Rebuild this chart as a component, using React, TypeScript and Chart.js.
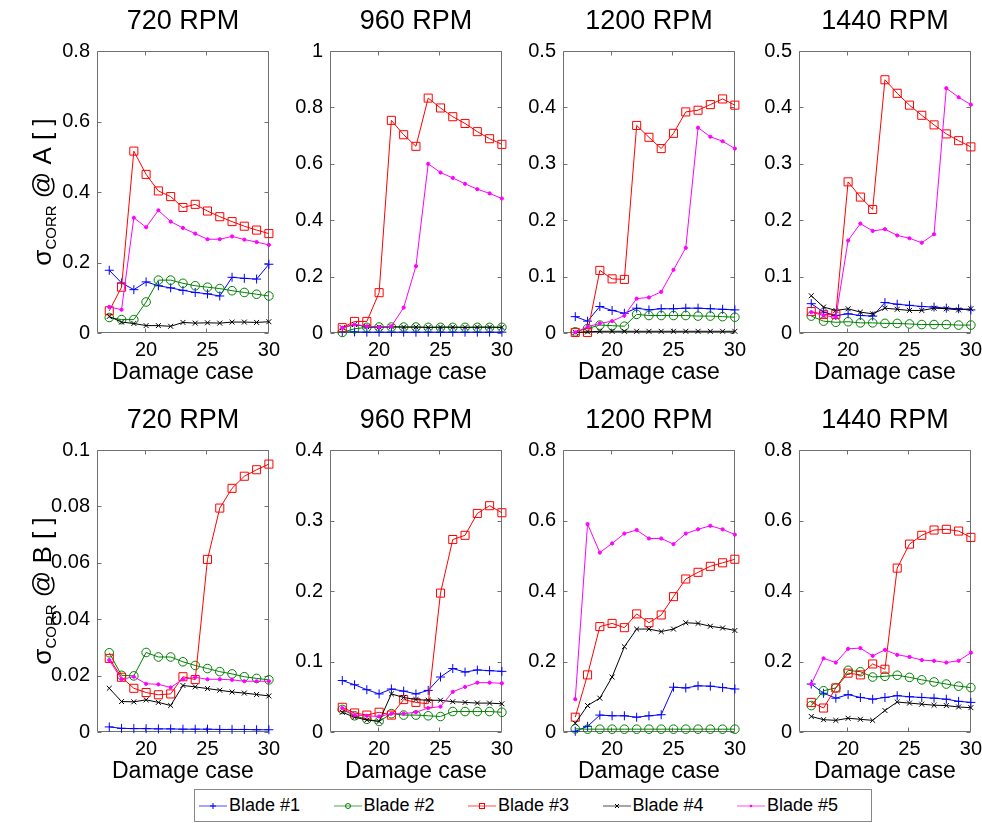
import React, { useEffect, useRef } from 'react';
import { Chart, registerables } from 'chart.js';

Chart.register(...registerables);

const FONT = "'Liberation Sans', Arial, Helvetica, sans-serif";

// ---------- data ----------
const damageCases = [17, 18, 19, 20, 21, 22, 23, 24, 25, 26, 27, 28, 29, 30];
const xTicks = [20, 25, 30];
const xMin = 16;
const xMax = 30;

const bladeNames = ['Blade #1', 'Blade #2', 'Blade #3', 'Blade #4', 'Blade #5'];
const rpmTitles = ['720 RPM', '960 RPM', '1200 RPM', '1440 RPM'];

// sigma_CORR @ A
const a720Blade1 = [0.178, 0.142, 0.123, 0.145, 0.134, 0.128, 0.121, 0.115, 0.111, 0.105, 0.158, 0.155, 0.153, 0.195];
const a720Blade2 = [0.044, 0.038, 0.038, 0.088, 0.150, 0.150, 0.141, 0.134, 0.130, 0.126, 0.120, 0.115, 0.110, 0.105];
const a720Blade3 = [0.063, 0.130, 0.516, 0.450, 0.403, 0.387, 0.356, 0.365, 0.346, 0.330, 0.316, 0.303, 0.292, 0.282];
const a720Blade4 = [0.047, 0.031, 0.027, 0.021, 0.021, 0.019, 0.030, 0.028, 0.029, 0.028, 0.031, 0.031, 0.030, 0.032];
const a720Blade5 = [0.074, 0.066, 0.327, 0.300, 0.348, 0.316, 0.298, 0.282, 0.266, 0.266, 0.274, 0.265, 0.258, 0.250];

const a960Blade1 = [0.004, 0.004, 0.003, 0.003, 0.003, 0.003, 0.003, 0.003, 0.003, 0.003, 0.003, 0.003, 0.003, 0.003];
const a960Blade2 = [0.002, 0.015, 0.020, 0.021, 0.021, 0.021, 0.021, 0.020, 0.020, 0.020, 0.020, 0.020, 0.020, 0.020];
const a960Blade3 = [0.019, 0.041, 0.041, 0.143, 0.754, 0.703, 0.662, 0.833, 0.798, 0.767, 0.743, 0.714, 0.689, 0.669];
const a960Blade4 = [0.019, 0.030, 0.022, 0.021, 0.022, 0.021, 0.021, 0.020, 0.021, 0.021, 0.020, 0.021, 0.021, 0.020];
const a960Blade5 = [0.019, 0.030, 0.024, 0.021, 0.024, 0.090, 0.237, 0.600, 0.569, 0.550, 0.529, 0.510, 0.495, 0.477];

const a1200Blade1 = [0.029, 0.021, 0.047, 0.040, 0.035, 0.044, 0.041, 0.043, 0.043, 0.044, 0.044, 0.043, 0.042, 0.041];
const a1200Blade2 = [0.002, 0.008, 0.014, 0.013, 0.012, 0.033, 0.031, 0.031, 0.031, 0.031, 0.030, 0.030, 0.029, 0.028];
const a1200Blade3 = [0.001, 0.001, 0.111, 0.096, 0.095, 0.368, 0.347, 0.327, 0.354, 0.392, 0.395, 0.405, 0.415, 0.404];
const a1200Blade4 = [0.001, 0.002, 0.003, 0.003, 0.003, 0.003, 0.003, 0.003, 0.003, 0.003, 0.003, 0.003, 0.003, 0.003];
const a1200Blade5 = [0.001, 0.011, 0.017, 0.021, 0.031, 0.061, 0.063, 0.073, 0.112, 0.151, 0.364, 0.348, 0.340, 0.327];

const a1440Blade1 = [0.052, 0.037, 0.031, 0.034, 0.031, 0.030, 0.054, 0.051, 0.049, 0.047, 0.046, 0.044, 0.043, 0.041];
const a1440Blade2 = [0.030, 0.021, 0.019, 0.020, 0.018, 0.018, 0.017, 0.017, 0.016, 0.015, 0.015, 0.015, 0.014, 0.014];
const a1440Blade3 = [0.038, 0.033, 0.033, 0.268, 0.241, 0.219, 0.449, 0.425, 0.404, 0.386, 0.369, 0.353, 0.341, 0.330];
const a1440Blade4 = [0.066, 0.046, 0.040, 0.043, 0.037, 0.034, 0.044, 0.042, 0.040, 0.040, 0.044, 0.043, 0.041, 0.043];
const a1440Blade5 = [0.037, 0.031, 0.028, 0.164, 0.194, 0.181, 0.184, 0.173, 0.168, 0.160, 0.175, 0.434, 0.418, 0.405];

// sigma_CORR @ B
const b720Blade1 = [0.0018, 0.0013, 0.0012, 0.0012, 0.0011, 0.0011, 0.0010, 0.0010, 0.0010, 0.0009, 0.0009, 0.0009, 0.0008, 0.0008];
const b720Blade2 = [0.0281, 0.0201, 0.0199, 0.0282, 0.0266, 0.0266, 0.0249, 0.0236, 0.0225, 0.0214, 0.0206, 0.0196, 0.0190, 0.0185];
const b720Blade3 = [0.0261, 0.0194, 0.0155, 0.0140, 0.0132, 0.0135, 0.0196, 0.0186, 0.0612, 0.0794, 0.0864, 0.0907, 0.0930, 0.0950];
const b720Blade4 = [0.0155, 0.0108, 0.0107, 0.0114, 0.0105, 0.0094, 0.0165, 0.0160, 0.0154, 0.0148, 0.0142, 0.0138, 0.0133, 0.0128];
const b720Blade5 = [0.0255, 0.0187, 0.0196, 0.0171, 0.0169, 0.0158, 0.0187, 0.0194, 0.0187, 0.0187, 0.0185, 0.0180, 0.0180, 0.0180];

const b960Blade1 = [0.073, 0.067, 0.060, 0.054, 0.061, 0.058, 0.054, 0.059, 0.078, 0.090, 0.085, 0.088, 0.087, 0.086];
const b960Blade2 = [0.032, 0.023, 0.018, 0.015, 0.026, 0.024, 0.024, 0.023, 0.022, 0.029, 0.029, 0.029, 0.029, 0.028];
const b960Blade3 = [0.035, 0.027, 0.024, 0.028, 0.024, 0.046, 0.042, 0.040, 0.197, 0.273, 0.279, 0.310, 0.321, 0.311];
const b960Blade4 = [0.028, 0.021, 0.017, 0.015, 0.054, 0.049, 0.046, 0.045, 0.045, 0.043, 0.042, 0.041, 0.041, 0.040];
const b960Blade5 = [0.034, 0.024, 0.023, 0.022, 0.026, 0.026, 0.028, 0.034, 0.036, 0.057, 0.064, 0.070, 0.070, 0.069];

const b1200Blade1 = [0.002, 0.016, 0.048, 0.046, 0.046, 0.042, 0.046, 0.049, 0.127, 0.125, 0.131, 0.130, 0.126, 0.122];
const b1200Blade2 = [0.009, 0.008, 0.008, 0.008, 0.008, 0.008, 0.008, 0.008, 0.008, 0.008, 0.008, 0.008, 0.008, 0.008];
const b1200Blade3 = [0.042, 0.162, 0.299, 0.308, 0.296, 0.335, 0.310, 0.332, 0.384, 0.434, 0.453, 0.470, 0.480, 0.490];
const b1200Blade4 = [0.025, 0.075, 0.096, 0.156, 0.242, 0.292, 0.292, 0.285, 0.292, 0.310, 0.308, 0.300, 0.295, 0.288];
const b1200Blade5 = [0.093, 0.590, 0.509, 0.535, 0.563, 0.573, 0.549, 0.549, 0.533, 0.563, 0.575, 0.585, 0.575, 0.560];

const b1440Blade1 = [0.136, 0.110, 0.096, 0.106, 0.098, 0.093, 0.098, 0.103, 0.100, 0.098, 0.096, 0.093, 0.087, 0.084];
const b1440Blade2 = [0.075, 0.117, 0.125, 0.175, 0.171, 0.156, 0.158, 0.161, 0.155, 0.148, 0.142, 0.136, 0.130, 0.126];
const b1440Blade3 = [0.084, 0.068, 0.125, 0.167, 0.162, 0.193, 0.178, 0.465, 0.533, 0.558, 0.573, 0.575, 0.570, 0.552];
const b1440Blade4 = [0.044, 0.035, 0.033, 0.039, 0.036, 0.033, 0.061, 0.085, 0.082, 0.079, 0.076, 0.075, 0.071, 0.069];
const b1440Blade5 = [0.136, 0.209, 0.197, 0.236, 0.238, 0.216, 0.233, 0.219, 0.213, 0.204, 0.202, 0.197, 0.202, 0.225];

// y tick labels
const yTicksA720 = [0, 0.2, 0.4, 0.6, 0.8];
const yTicksA960 = [0, 0.2, 0.4, 0.6, 0.8, 1];
const yTicksA1200 = [0, 0.1, 0.2, 0.3, 0.4, 0.5];
const yTicksA1440 = [0, 0.1, 0.2, 0.3, 0.4, 0.5];
const yTicksB720 = [0, 0.02, 0.04, 0.06, 0.08, 0.1];
const yTicksB960 = [0, 0.1, 0.2, 0.3, 0.4];
const yTicksB1200 = [0, 0.2, 0.4, 0.6, 0.8];
const yTicksB1440 = [0, 0.2, 0.4, 0.6, 0.8];

// ---------- styles ----------
const bladeColors = ['#0000ff', '#008000', '#ff0000', '#000000', '#ff00ff'];
const bladeMarkers = ['cross', 'circle', 'rect', 'crossRot', 'circle'];
const bladeRadius = [4.5, 4.3, 5.7, 3.5, 1.6];
const bladeFill = ['transparent', 'transparent', 'transparent', 'transparent', '#ff00ff'];

const PLOT_W = 172;
const PLOT_H = 282;
const colLefts = [97, 330, 563, 799];
const rowTops = [51, 450];
const TOP_SPACE = 50;
const BOTTOM_SPACE = 62;
const RIGHT_SPACE = 16;

type PanelCfg = {
  title: string;
  row: number;
  col: number;
  yTicks: number[];
  series: number[][];
  yLabel?: string;
};

const panels: PanelCfg[] = [
  { title: rpmTitles[0], row: 0, col: 0, yTicks: yTicksA720, series: [a720Blade1, a720Blade2, a720Blade3, a720Blade4, a720Blade5], yLabel: 'A' },
  { title: rpmTitles[1], row: 0, col: 1, yTicks: yTicksA960, series: [a960Blade1, a960Blade2, a960Blade3, a960Blade4, a960Blade5] },
  { title: rpmTitles[2], row: 0, col: 2, yTicks: yTicksA1200, series: [a1200Blade1, a1200Blade2, a1200Blade3, a1200Blade4, a1200Blade5] },
  { title: rpmTitles[3], row: 0, col: 3, yTicks: yTicksA1440, series: [a1440Blade1, a1440Blade2, a1440Blade3, a1440Blade4, a1440Blade5] },
  { title: rpmTitles[0], row: 1, col: 0, yTicks: yTicksB720, series: [b720Blade1, b720Blade2, b720Blade3, b720Blade4, b720Blade5], yLabel: 'B' },
  { title: rpmTitles[1], row: 1, col: 1, yTicks: yTicksB960, series: [b960Blade1, b960Blade2, b960Blade3, b960Blade4, b960Blade5] },
  { title: rpmTitles[2], row: 1, col: 2, yTicks: yTicksB1200, series: [b1200Blade1, b1200Blade2, b1200Blade3, b1200Blade4, b1200Blade5] },
  { title: rpmTitles[3], row: 1, col: 3, yTicks: yTicksB1440, series: [b1440Blade1, b1440Blade2, b1440Blade3, b1440Blade4, b1440Blade5] },
];

const fmt = (v: number) => String(parseFloat(Number(v).toFixed(4)));

const decorPlugin = {
  id: 'decor',
  beforeDatasetsDraw(chart: any, _args: any, opts: any) {
    const { ctx, chartArea: a, scales } = chart;
    ctx.save();
    ctx.strokeStyle = '#707070';
    ctx.lineWidth = 1;
    const l = Math.round(a.left) + 0.5;
    const r = Math.round(a.right) - 0.5;
    const t = Math.round(a.top) + 0.5;
    const b = Math.round(a.bottom) - 0.5;
    ctx.beginPath();
    ctx.rect(l, t, r - l, b - t);
    const TL = 4;
    for (const v of opts.xTicks) {
      const x = Math.round(scales.x.getPixelForValue(v)) - 0.5;
      ctx.moveTo(x, b);
      ctx.lineTo(x, b - TL);
      ctx.moveTo(x, t);
      ctx.lineTo(x, t + TL);
    }
    for (const v of opts.yTicks) {
      const y = Math.round(scales.y.getPixelForValue(v)) + 0.5;
      ctx.moveTo(l, y);
      ctx.lineTo(l + TL, y);
      ctx.moveTo(r, y);
      ctx.lineTo(r - TL, y);
    }
    ctx.stroke();
    ctx.restore();
  },
  afterDraw(chart: any, _args: any, opts: any) {
    const { ctx, chartArea: a } = chart;
    const cx = (a.left + a.right) / 2;
    ctx.save();
    ctx.fillStyle = '#000';
    ctx.textAlign = 'center';
    ctx.textBaseline = 'middle';
    ctx.font = `27px ${FONT}`;
    ctx.fillText(opts.title, cx, a.top - 29);
    ctx.font = `23px ${FONT}`;
    ctx.fillText('Damage case', cx, a.bottom + 40);
    if (opts.yLabel) {
      const cy = (a.top + a.bottom) / 2;
      const mainFont = `26px ${FONT}`;
      const subFont = `15px ${FONT}`;
      ctx.font = mainFont;
      const w1 = ctx.measureText('σ').width;
      const w3 = ctx.measureText(` @ ${opts.yLabel} [ ]`).width;
      ctx.font = subFont;
      const w2 = ctx.measureText('CORR').width;
      const total = w1 + w2 + w3;
      ctx.translate(44, cy);
      ctx.rotate(-Math.PI / 2);
      ctx.textAlign = 'left';
      ctx.textBaseline = 'alphabetic';
      let x = -total / 2;
      const base = 7;
      ctx.font = mainFont;
      ctx.fillText('σ', x, base);
      x += w1;
      ctx.font = subFont;
      ctx.fillText('CORR', x, base + 5);
      x += w2;
      ctx.font = mainFont;
      ctx.fillText(` @ ${opts.yLabel} [ ]`, x, base);
    }
    ctx.restore();
  },
};

function Panel({ cfg }: { cfg: PanelCfg }) {
  const ref = useRef<HTMLCanvasElement | null>(null);
  const plotLeft = colLefts[cfg.col];
  const plotTop = rowTops[cfg.row];
  const leftSpace = cfg.col === 0 ? plotLeft : 80;
  const width = leftSpace + PLOT_W + RIGHT_SPACE;
  const height = TOP_SPACE + PLOT_H + BOTTOM_SPACE;

  useEffect(() => {
    if (!ref.current) return;
    const yTicks = cfg.yTicks;
    const chart = new Chart(ref.current, {
      type: 'line',
      data: {
        datasets: cfg.series.map((vals, i) => ({
          label: bladeNames[i],
          data: damageCases.map((c, k) => ({ x: c, y: vals[k] })),
          borderColor: bladeColors[i],
          backgroundColor: bladeFill[i],
          borderWidth: 1,
          pointStyle: bladeMarkers[i] as any,
          pointRadius: bladeRadius[i],
          pointBorderColor: bladeColors[i],
          pointBackgroundColor: bladeFill[i],
          pointBorderWidth: 1,
          tension: 0,
          fill: false,
          clip: false as any,
          order: 5 - i,
        })),
      },
      options: {
        responsive: false,
        animation: false,
        devicePixelRatio: 1,
        layout: { padding: { top: TOP_SPACE, right: RIGHT_SPACE, left: 0, bottom: 0 } },
        plugins: {
          legend: { display: false },
          tooltip: { enabled: false },
          decor: { title: cfg.title, yLabel: cfg.yLabel, xTicks, yTicks },
        } as any,
        scales: {
          x: {
            type: 'linear',
            min: xMin,
            max: xMax,
            afterBuildTicks: (s: any) => {
              s.ticks = xTicks.map((v) => ({ value: v }));
            },
            afterFit: (s: any) => {
              s.height = BOTTOM_SPACE;
            },
            grid: { display: false, drawTicks: false },
            border: { display: false },
            ticks: {
              color: '#000',
              font: { family: FONT, size: 20 },
              padding: 5,
              maxRotation: 0,
              autoSkip: false,
              callback: (v: any) => fmt(v),
            },
          },
          y: {
            type: 'linear',
            min: yTicks[0],
            max: yTicks[yTicks.length - 1],
            afterBuildTicks: (s: any) => {
              s.ticks = yTicks.map((v) => ({ value: v }));
            },
            afterFit: (s: any) => {
              s.width = leftSpace;
            },
            grid: { display: false, drawTicks: false },
            border: { display: false },
            ticks: {
              color: '#000',
              font: { family: FONT, size: 20 },
              padding: 7,
              autoSkip: false,
              callback: (v: any) => fmt(v),
            },
          },
        },
      },
      plugins: [decorPlugin as any],
    });
    return () => chart.destroy();
  }, [cfg]);

  return (
    <canvas
      ref={ref}
      width={width}
      height={height}
      style={{
        position: 'absolute',
        left: plotLeft - leftSpace,
        top: plotTop - TOP_SPACE,
        width,
        height,
      }}
    />
  );
}

function LegendIcon({ i }: { i: number }) {
  const c = bladeColors[i];
  const cx = 14;
  const cy = 8;
  let marker: React.ReactNode = null;
  if (i === 0) {
    marker = (
      <g stroke={c} strokeWidth={1}>
        <line x1={cx - 3} y1={cy} x2={cx + 3} y2={cy} />
        <line x1={cx} y1={cy - 3} x2={cx} y2={cy + 3} />
      </g>
    );
  } else if (i === 1) {
    marker = <circle cx={cx} cy={cy} r={2.5} fill="none" stroke={c} strokeWidth={1} />;
  } else if (i === 2) {
    marker = <rect x={cx - 2.5} y={cy - 2.5} width={5} height={5} fill="none" stroke={c} strokeWidth={1} />;
  } else if (i === 3) {
    marker = (
      <g stroke={c} strokeWidth={1}>
        <line x1={cx - 2} y1={cy - 2} x2={cx + 2} y2={cy + 2} />
        <line x1={cx - 2} y1={cy + 2} x2={cx + 2} y2={cy - 2} />
      </g>
    );
  } else {
    marker = <circle cx={cx} cy={cy} r={1.3} fill={c} />;
  }
  return (
    <svg width={28} height={16} style={{ display: 'block', marginRight: 2 }}>
      <line x1={0} y1={cy} x2={28} y2={cy} stroke={c} strokeWidth={1} opacity={0.7} />
      {marker}
    </svg>
  );
}

function Legend() {
  return (
    <div
      style={{
        position: 'absolute',
        left: 194,
        top: 789,
        width: 678,
        height: 33,
        boxSizing: 'border-box',
        border: '1px solid #888',
        background: '#fff',
        display: 'flex',
        alignItems: 'center',
        justifyContent: 'flex-start',
        paddingLeft: 4,
        fontFamily: FONT,
        fontSize: 18,
        color: '#000',
      }}
    >
      {bladeNames.map((n, i) => (
        <div key={n} style={{ display: 'flex', alignItems: 'center', width: 134.5, flex: 'none' }}>
          <LegendIcon i={i} />
          <span>{n}</span>
        </div>
      ))}
    </div>
  );
}

export default function App() {
  return (
    <div style={{ position: 'absolute', left: 0, top: 0, width: 982, height: 823, background: '#fff', overflow: 'hidden' }}>
      {panels.map((p, i) => (
        <Panel key={i} cfg={p} />
      ))}
      <Legend />
    </div>
  );
}
